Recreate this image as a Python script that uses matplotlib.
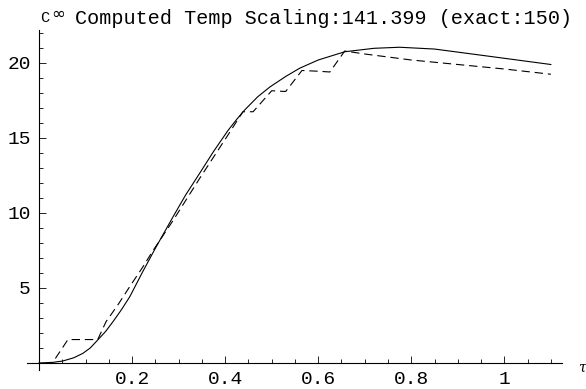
import matplotlib
matplotlib.use("Agg")
import matplotlib.pyplot as plt
from matplotlib.ticker import MultipleLocator, FuncFormatter

# solid curve (exact)
tau_exact = [0, 0.03, 0.051, 0.075, 0.094, 0.11, 0.126, 0.143, 0.159, 0.177,
             0.195, 0.223, 0.25, 0.288, 0.315, 0.345, 0.375, 0.406, 0.425, 0.442,
             0.47, 0.496, 0.53, 0.56, 0.60, 0.657, 0.72, 0.775, 0.85, 0.955, 1.10]
c_exact = [0, 0.04, 0.13, 0.35, 0.64, 1.0, 1.53, 2.1, 2.76, 3.55,
           4.42, 6.1, 7.65, 9.75, 11.2, 12.64, 14.1, 15.5, 16.25, 16.87,
           17.75, 18.4, 19.1, 19.65, 20.2, 20.75, 20.98, 21.05, 20.93, 20.5, 19.9]

# dashed curve (computed)
tau_comp = [0.035, 0.062, 0.126, 0.144, 0.17, 0.195, 0.223, 0.245, 0.288, 0.345,
            0.406, 0.438, 0.46, 0.50, 0.53, 0.565, 0.60, 0.625, 0.657, 0.70,
            0.80, 0.90, 1.0, 1.10]
c_comp = [0.3, 1.56, 1.56, 2.76, 3.9, 5.1, 6.4, 7.5, 9.5, 12.3,
          15.2, 16.75, 16.75, 18.15, 18.1, 19.5, 19.45, 19.4, 20.8, 20.6,
          20.2, 19.9, 19.6, 19.25]

plt.rcParams["font.family"] = ["Liberation Mono", "DejaVu Sans"]
plt.rcParams["lines.scale_dashes"] = False

fig = plt.figure(figsize=(5.86, 3.89), dpi=100)
ax = fig.add_axes([27 / 586, 1 - 370 / 389, (562 - 27) / 586, (370 - 30) / 389])

ax.plot(tau_exact, c_exact, color="black", linewidth=0.8)
ax.plot(tau_comp, c_comp, color="black", linewidth=0.8, dashes=(6, 3.5))

ax.set_xlim(-0.026, 1.124)
ax.set_ylim(-0.47, 22.2)
for s in ("top", "right"):
    ax.spines[s].set_visible(False)
ax.spines["left"].set_position(("data", 0))
ax.spines["bottom"].set_position(("data", 0))
for s in ("left", "bottom"):
    ax.spines[s].set_linewidth(0.8)

ax.xaxis.set_major_locator(MultipleLocator(0.2))
ax.xaxis.set_minor_locator(MultipleLocator(0.05))
ax.yaxis.set_major_locator(MultipleLocator(5))
ax.yaxis.set_minor_locator(MultipleLocator(1))
ax.xaxis.set_major_formatter(FuncFormatter(lambda v, p: "" if abs(v) < 1e-9 else f"{v:g}"))
ax.yaxis.set_major_formatter(FuncFormatter(lambda v, p: "" if abs(v) < 1e-9 else f"{v:g}"))
ax.tick_params(which="both", direction="in", width=0.6, labelsize=14)
ax.tick_params(which="major", length=5, pad=6)
ax.tick_params(which="minor", length=3)

fig.text(40 / 586, 1 - 18 / 389, "C", fontsize=11, va="center")
fig.text(51 / 586, 1 - 14 / 389, "\u221e", fontsize=12, va="center", family="DejaVu Sans")
fig.text(75 / 586, 1 - 18 / 389, "Computed Temp Scaling:141.399 (exact:150)",
         fontsize=14.5, va="center")
fig.text(578 / 586, 1 - 368 / 389, "\u03c4", fontsize=10, va="center", style="italic",
         family="DejaVu Serif")

fig.savefig("out.png", dpi=100)
